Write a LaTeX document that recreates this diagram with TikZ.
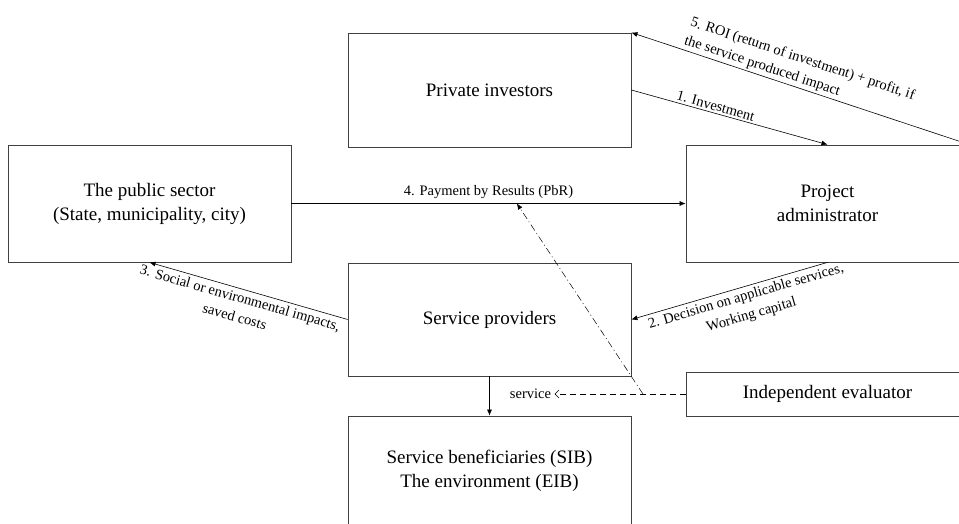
\documentclass[tikz,border=0pt]{standalone}
\usepackage{fontspec}
\setmainfont{Liberation Serif}
\usetikzlibrary{calc}
\usetikzlibrary{arrows.meta}
\tikzset{
  actor/.style   = {draw=black!75, line width=0.8pt, minimum width=283pt,
                    align=center, inner sep=0pt, font=\fontsize{19}{24}\selectfont},
  flow/.style    = {line width=0.6pt, -{Latex[length=6pt,width=5pt]}},
  flowlab/.style = {font=\fontsize{14.5}{19.5}\selectfont, sloped},
}

\begin{document}
\begin{tikzpicture}[x=1pt, y=-1pt]
\useasboundingbox (0,0) rectangle (959,524);
\clip (0,0) rectangle (959,524);

% ── Actors (boxes run off the right and bottom edge) ──────────
\node[actor, minimum height=114pt] (inv)  at (489.5,90)    {Private investors};
\node[actor, minimum height=117pt] (pub)  at (149.5,203.5) {The public sector\\(State, municipality, city)};
\node[actor, minimum height=117pt] (adm)  at (827.5,203.5) {Project\\administrator};
\node[actor, minimum height=113pt] (prov) at (489.5,319.5) {Service providers};
\node[actor, minimum height=44pt]  (eval) at (827.5,394)   {Independent evaluator};
\node[actor, minimum height=110pt] (ben)  at (489.5,471)   {Service beneficiaries (SIB)\\The environment (EIB)};

% ── Money flows 1-5 ──────────────────────────────────────────
\draw[flow] (inv.east) -- node[flowlab, above, pos=0.42, inner sep=2pt] {1. Investment} (adm.north);
\draw[flow] (adm.south) -- node[flowlab, below, pos=0.43, align=center]
  {2. Decision on applicable services,\\Working capital} (prov.east);
\draw[flow] (prov.west) -- node[flowlab, below, pos=0.53, align=center]
  {3. Social or environmental impacts,\\saved costs} (pub.south);
\draw[flow] (pub.east) -- node[flowlab, above, inner sep=5pt] {4. Payment by Results (PbR)} (adm.west);
\draw[flow] (adm.north east) -- node[flowlab, above, pos=0.52, align=left, inner sep=2pt]
  {5. ROI (return of investment) + profit, if\\the service produced impact} (inv.north east);

% ── Service delivery and evaluation ──────────────────────────
\node[font=\fontsize{14.5}{17}\selectfont] (svc) at (530.5,394) {service};
\draw[flow] (prov.south) -- (ben.north);
\draw[line width=0.6pt, dash pattern=on 6pt off 4pt,
      -{Straight Barb[length=4pt,width=8pt]}] (eval.west) -- (svc.east);
% evaluator's check feeds the PbR payment
\coordinate (tap) at (643,394);
\coordinate (pbr) at ($(pub.east)!0.572!(adm.west)$);
\draw[flow, line width=0.5pt, dash pattern=on 7pt off 3pt on 1pt off 3pt] (tap) -- (pbr);

\end{tikzpicture}
\end{document}
